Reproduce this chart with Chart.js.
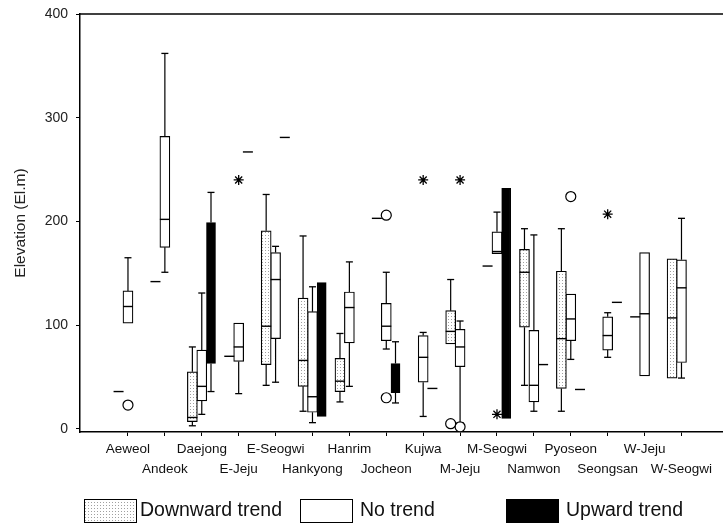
<!DOCTYPE html>
<html><head><meta charset="utf-8">
<script src="https://cdn.jsdelivr.net/npm/chart.js@4/dist/chart.umd.min.js"></script>
<style>html,body{margin:0;padding:0;background:#fff}#wrap{width:723px;height:528px;position:relative}</style>
</head><body><div id="wrap"><canvas id="c"></canvas></div>
<script>
// ---------------- DATA ----------------
const regions = ['Aeweol','Andeok','Daejong','E-Jeju','E-Seogwi','Hankyong','Hanrim','Jocheon','Kujwa','M-Jeju','M-Seogwi','Namwon','Pyoseon','Seongsan','W-Jeju','W-Seogwi'];
const seriesNames = ['Downward trend','No trend','Upward trend'];
const yTicks = [0,100,200,300,400];
const yTitle = 'Elevation (El.m)';

// five-number summaries [min, q1, median, q3, max] per region (null = no box)
const downBoxes = [null,null,[3,7,11,55,79],null,[42,62,99,191,226],[17,41,66,126,186],[26,36,46,68,92],null,null,[82,82,94,114,144],null,[42,98,151,173,193],[17,39,87,152,193],null,null,[49,49,107,164,164]];
const noBoxes = [[102,102,118,133,165],[151,175,202,282,362],[14,27,41,76,131],[34,65,79,102,102],[45,87,144,170,176],[6,16,31,113,137],[41,83,117,132,161],[77,85,99,121,151],[12,45,69,90,93],[6,60,79,96,104],[169,169,171,190,209],[17,26,42,95,187],[67,85,106,130,130],[69,76,90,108,112],[51,51,111,170,170],[49,64,136,163,203]];
const upBoxes = [null,null,[36,63,130,199,228],null,null,[12,12,80,141,141],null,[25,35,50,63,84],null,null,[10,10,120,232,232],null,null,null,null,null];

// single-observation groups (drawn as a median dash only)
const downSingles = [36,142,null,70,null,null,null,203,null,null,157,null,null,null,108,null];
const noSingles = [null,null,null,null,null,null,null,null,null,null,null,null,null,null,null,null];
const upSingles = [null,null,null,267,281,null,null,null,39,null,null,62,38,122,null,null];

// outliers [regionIndex, value]
const downCircles = [[9,5]];
const noCircles = [[0,23],[7,206],[7,30],[9,2],[12,224]];
const noStars = [[3,240],[8,240],[9,240],[10,14],[13,207]];
const upCircles = [];
const downStars = [];
const upStars = [];

// ---------------- STYLE / LAYOUT ----------------
const FONT = "'Liberation Sans', Arial, Helvetica, sans-serif";
const colOffset = [-0.255, 0, 0.25];
const boxPx = [10, 10, 9];

function makeDots(){
  const c = document.createElement('canvas'); c.width = 3; c.height = 3;
  const g = c.getContext('2d');
  g.fillStyle = '#ffffff'; g.fillRect(0,0,3,3);
  g.fillStyle = '#a0a0a0'; g.fillRect(1,1,1,1);
  return g.createPattern(c, 'repeat');
}
const dots = makeDots();
const fills = [dots, '#ffffff', '#000000'];

const boxesBy = [downBoxes, noBoxes, upBoxes];
const singlesBy = [downSingles, noSingles, upSingles];
const circlesBy = [downCircles, noCircles, upCircles];
const starsBy = [downStars, noStars, upStars];

const datasets = [];
boxesBy.forEach((boxes, s) => {
  const off = colOffset[s];
  const present = [];
  boxes.forEach((b, i) => { if (b) present.push({ i, b }); });
  datasets.push({
    type: 'bar', label: seriesNames[s],
    data: present.map(({ i, b }) => ({ x: i + off, y: [b[1], b[3]] })),
    backgroundColor: fills[s], borderColor: '#000', borderWidth: 1.2,
    borderSkipped: false, barThickness: boxPx[s], grouped: false, order: 6
  });
  const wh = [], caps = [];
  present.forEach(({ i, b }) => {
    const x = i + off;
    if (b[4] > b[3]) { wh.push({ x, y: b[3] }, { x, y: b[4] }, { x, y: null }); caps.push({ x, y: b[4] }); }
    if (b[0] < b[1]) { wh.push({ x, y: b[1] }, { x, y: b[0] }, { x, y: null }); caps.push({ x, y: b[0] }); }
  });
  datasets.push({ type: 'line', data: wh, borderColor: '#000', borderWidth: 1.2, pointRadius: 0, spanGaps: false, fill: false, order: 5 });
  datasets.push({ type: 'scatter', data: caps, pointStyle: 'line', pointRadius: 3.5, pointBorderColor: '#000', pointBorderWidth: 1.3, order: 4 });
  const med = s === 2 ? [] : present.map(({ i, b }) => ({ x: i + off, y: b[2] }));
  singlesBy[s].forEach((v, i) => { if (v !== null) med.push({ x: i + off, y: v }); });
  datasets.push({ type: 'scatter', data: med, pointStyle: 'line', pointRadius: 5, pointBorderColor: '#000', pointBorderWidth: 1.4, order: 3 });
  datasets.push({ type: 'scatter', data: circlesBy[s].map(([i, v]) => ({ x: i + off, y: v })), pointStyle: 'circle', pointRadius: 5, pointBackgroundColor: '#fff', pointBorderColor: '#000', pointBorderWidth: 1.2, order: 2 });
  datasets.push({ type: 'scatter', data: starsBy[s].map(([i, v]) => ({ x: i + off, y: v })), pointStyle: 'star', pointRadius: 5, pointBorderColor: '#000', pointBorderWidth: 1.3, order: 1 });
});

const framePlugin = {
  id: 'frame',
  afterDraw(chart) {
    const { ctx, chartArea: a } = chart;
    ctx.save();
    ctx.strokeStyle = '#000'; ctx.lineWidth = 1.5;
    ctx.beginPath(); ctx.moveTo(a.left, a.top); ctx.lineTo(a.right, a.top); ctx.stroke();
    // legend
    const items = [{ bx: 84, tx: 140 }, { bx: 300, tx: 360 }, { bx: 506, tx: 566 }];
    ctx.font = '19.5px ' + FONT; ctx.textBaseline = 'middle'; ctx.textAlign = 'left';
    items.forEach((it, s) => {
      ctx.fillStyle = fills[s];
      ctx.fillRect(it.bx, 499, 52, 23);
      ctx.lineWidth = 1; ctx.strokeStyle = '#000';
      ctx.strokeRect(it.bx + 0.5, 499.5, 52, 23);
      ctx.fillStyle = '#111';
      ctx.fillText(seriesNames[s], it.tx, 511);
    });
    ctx.restore();
  }
};

new Chart(document.getElementById('c'), {
  type: 'scatter',
  data: { datasets },
  options: {
    responsive: true, maintainAspectRatio: false, animation: false, events: [],
    layout: { autoPadding: false, padding: { top: 14, right: 0, bottom: 46, left: 0 } },
    plugins: { legend: { display: false }, tooltip: { enabled: false } },
    scales: {
      x: {
        type: 'linear', min: -1.3, max: 16.125, offset: false,
        afterBuildTicks: sc => { sc.ticks = regions.map((_, i) => ({ value: i })); },
        afterFit: sc => { sc.height = 50; sc.paddingLeft = 0; sc.paddingRight = 0; },
        grid: { display: true, drawOnChartArea: false, drawTicks: true, tickLength: 4, color: '#000', offset: false },
        border: { display: true, color: '#000', width: 1.5 },
        ticks: {
          autoSkip: false, maxRotation: 0, minRotation: 0, padding: 3, color: '#111',
          font: { family: FONT, size: 13.5, lineHeight: 1.5 },
          callback: v => { const i = Math.round(v); return i % 2 === 0 ? regions[i] : ['', regions[i]]; }
        }
      },
      y: {
        type: 'linear', min: -3, max: 400,
        afterBuildTicks: sc => { sc.ticks = yTicks.map(v => ({ value: v })); },
        afterFit: sc => { sc.width = 80; sc.paddingTop = 0; sc.paddingBottom = 0; },
        grid: { display: true, drawOnChartArea: false, drawTicks: true, tickLength: 4, color: '#000' },
        border: { display: true, color: '#000', width: 1.5 },
        ticks: { padding: 8, color: '#222', font: { family: FONT, size: 14 } },
        title: { display: true, text: yTitle, color: '#222', font: { family: FONT, size: 15.5 }, padding: { top: 11, bottom: 0 } }
      }
    }
  },
  plugins: [framePlugin]
});
</script></body></html>
